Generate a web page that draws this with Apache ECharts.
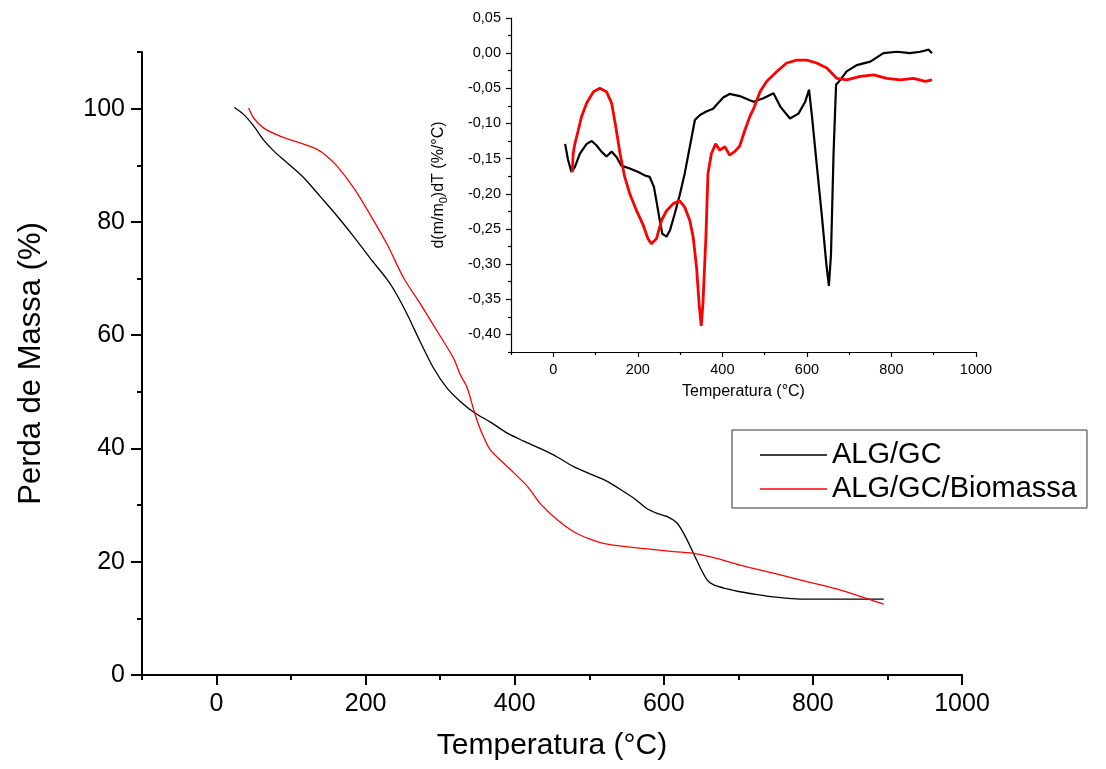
<!DOCTYPE html>
<html>
<head>
<meta charset="utf-8">
<title>TG / DTG</title>
<script src="https://cdn.jsdelivr.net/npm/echarts@6/dist/echarts.min.js"></script>
<style>
html,body{margin:0;padding:0;background:#fff;}
#main{width:1106px;height:769px;}
</style>
</head>
<body>
<div id="main"></div>
<script>
// TG (perda de massa, %) - [temperatura, valor]
var tgAlg = [[24,100.2],[37,98.9],[50,96.9],[63,94.5],[77,92.5],[95,90.4],[117,87.8],[139,84.5],[162,81.0],[184,77.4],[206,73.6],[229,69.8],[242,67.1],[256,63.6],[273,58.9],[291,54.2],[309,50.7],[327,48.3],[345,46.4],[368,44.6],[390,42.7],[412,41.3],[434,40.0],[457,38.5],[479,36.8],[501,35.5],[524,34.2],[546,32.4],[562,31.0],[577,29.4],[592,28.5],[604,28.0],[618,26.8],[631,23.9],[644,20.3],[658,16.8],[667,15.9],[685,15.2],[702,14.7],[725,14.2],[747,13.8],[783,13.4],[840,13.4],[895,13.4]];
var tgBio = [[43,100.1],[50,98.3],[63,96.6],[86,95.1],[113,93.9],[135,92.8],[148,91.6],[162,89.8],[184,86.0],[206,81.3],[229,76.0],[251,70.1],[274,65.4],[296,60.7],[318,55.9],[327,53.0],[336,50.8],[345,46.8],[352,44.0],[358,42.1],[367,39.8],[390,36.8],[417,33.3],[434,30.3],[457,27.4],[479,25.3],[501,24.0],[524,23.1],[568,22.4],[613,21.8],[644,21.4],[671,20.6],[702,19.4],[747,18.0],[792,16.5],[837,15.0],[895,12.5]];

// DTG (inset)
var dtgAlg = [[28,-0.129],[35,-0.152],[43,-0.169],[51,-0.162],[63,-0.143],[79,-0.129],[91,-0.125],[102,-0.131],[114,-0.140],[126,-0.147],[138,-0.140],[150,-0.148],[161,-0.160],[181,-0.164],[201,-0.169],[217,-0.174],[228,-0.176],[238,-0.190],[244,-0.210],[252,-0.238],[258,-0.257],[268,-0.261],[276,-0.252],[287,-0.229],[299,-0.202],[311,-0.171],[323,-0.133],[335,-0.095],[347,-0.088],[362,-0.083],[378,-0.079],[390,-0.071],[402,-0.063],[417,-0.058],[441,-0.061],[465,-0.067],[474,-0.069],[497,-0.064],[521,-0.057],[537,-0.076],[560,-0.093],[580,-0.086],[596,-0.069],[605,-0.052],[612,-0.090],[623,-0.157],[635,-0.229],[646,-0.300],[652,-0.331],[657,-0.286],[663,-0.143],[669,-0.045],[679,-0.038],[694,-0.026],[718,-0.017],[750,-0.012],[781,0.000],[813,0.002],[844,0.000],[868,0.002],[888,0.005],[896,0.000]];
var dtgBio = [[45,-0.169],[47,-0.143],[51,-0.129],[59,-0.110],[67,-0.090],[79,-0.071],[95,-0.055],[110,-0.050],[126,-0.055],[138,-0.071],[148,-0.105],[158,-0.143],[169,-0.176],[181,-0.200],[197,-0.224],[213,-0.245],[224,-0.264],[232,-0.271],[244,-0.264],[256,-0.238],[268,-0.224],[284,-0.214],[299,-0.210],[311,-0.219],[323,-0.238],[331,-0.262],[339,-0.305],[345,-0.357],[350,-0.388],[354,-0.357],[361,-0.262],[366,-0.171],[374,-0.143],[384,-0.129],[394,-0.138],[406,-0.133],[417,-0.145],[429,-0.140],[441,-0.132],[453,-0.110],[465,-0.090],[474,-0.079],[489,-0.055],[505,-0.040],[529,-0.026],[552,-0.014],[576,-0.010],[600,-0.010],[623,-0.014],[647,-0.021],[671,-0.036],[694,-0.038],[726,-0.033],[758,-0.031],[789,-0.036],[821,-0.038],[852,-0.036],[880,-0.040],[896,-0.038]];

// ticks
var xMajor = [0,200,400,600,800,1000];
var xMinor = [-100,100,300,500,700,900];
var yMajor = [0,20,40,60,80,100];
var yMinor = [10,30,50,70,90,110];
var insetYMajor = [-0.40,-0.35,-0.30,-0.25,-0.20,-0.15,-0.10,-0.05,0,0.05];
var insetYMinor = [-0.425,-0.375,-0.325,-0.275,-0.225,-0.175,-0.125,-0.075,-0.025,0.025];

var FONT = 'Arial, "Liberation Sans", sans-serif';
var FONT_NARROW = '"Liberation Sans Narrow", "Arial Narrow", Arial, "Liberation Sans", sans-serif';

function axisBase(gridIndex, min, max, pos){
	return {
		type: 'value', gridIndex: gridIndex, min: min, max: max, position: pos,
		splitLine: {show: false}
	};
}

function majorAxis(gridIndex, min, max, pos, ticks, opt){
	var a = axisBase(gridIndex, min, max, pos);
	a.axisLine = {show: true, onZero: false, lineStyle: {color: '#000', width: opt.lw}};
	a.axisTick = {show: true, inside: false, length: opt.major, customValues: ticks, lineStyle: {color: '#000', width: opt.lw}};
	a.axisLabel = {customValues: ticks, color: '#000', fontSize: opt.fs, fontFamily: opt.font || FONT, margin: opt.margin,
		formatter: opt.fmt || function(v){ return String(v); }};
	a.name = opt.name;
	a.nameLocation = 'middle';
	a.nameGap = opt.gap;
	a.nameTextStyle = opt.nameStyle;
	if(opt.rot) a.nameRotate = 90;
	return a;
}

function minorAxis(gridIndex, min, max, pos, ticks, len, lw){
	var a = axisBase(gridIndex, min, max, pos);
	a.axisLine = {show: false, onZero: false};
	a.axisTick = {show: true, inside: false, length: len, customValues: ticks, lineStyle: {color: '#000', width: lw}};
	a.axisLabel = {show: false};
	return a;
}

function fmtComma(v){
	return v.toFixed(2).replace('.', ',');
}

var myChart = echarts.init(document.getElementById('main'), null, {renderer: 'canvas'});
var option = {
	animation: false,
	backgroundColor: '#fff',
	grid: [
		{left: 142, right: 144, top: 52, bottom: 94},
		{left: 511, right: 130, top: 18, bottom: 417}
	],
	legend: {
		data: ['ALG/GC', 'ALG/GC/Biomassa'],
		orient: 'vertical',
		left: 732, top: 430,
		icon: 'rect',
		itemWidth: 67, itemHeight: 1.5, itemGap: 4,
		padding: [10, 10, 4, 28],
		borderColor: '#333', borderWidth: 1,
		selectedMode: false,
		textStyle: {color: '#000', fontSize: 29, fontFamily: FONT, lineHeight: 30}
	},
	xAxis: [
		majorAxis(0, -100, 1000, 'bottom', xMajor, {lw: 2, major: 10, fs: 25, font: FONT_NARROW, margin: 17, name: 'Temperatura (°C)', gap: 56,
			nameStyle: {color: '#000', fontSize: 30, fontFamily: FONT}}),
		minorAxis(0, -100, 1000, 'bottom', xMinor, 5, 2),
		majorAxis(1, -100, 1000, 'bottom', xMajor, {lw: 1.2, major: 5, fs: 14.5, margin: 10, name: 'Temperatura (°C)', gap: 32,
			nameStyle: {color: '#000', fontSize: 16, fontFamily: FONT}}),
		minorAxis(1, -100, 1000, 'bottom', xMajor.map(function(v){return v + 100;}).concat([-100]), 3, 1.2)
	],
	yAxis: [
		majorAxis(0, 0, 110, 'left', yMajor, {lw: 2, major: 11, fs: 25, font: FONT_NARROW, margin: 17, name: 'Perda de Massa (%)', gap: 95, rot: true,
			nameStyle: {color: '#000', fontSize: 31, fontFamily: FONT}}),
		minorAxis(0, 0, 110, 'left', yMinor, 5, 2),
		majorAxis(1, -0.425, 0.05, 'left', insetYMajor, {lw: 1.2, major: 5, fs: 14.5, margin: 10, fmt: fmtComma,
			name: 'd(m/m{s|0})dT (%/°C)', gap: 62, rot: true,
			nameStyle: {color: '#000', fontSize: 16, fontFamily: FONT, rich: {s: {fontSize: 11, fontFamily: FONT, color: '#000', padding: [9, 0, 0, 0]}}}}),
		minorAxis(1, -0.425, 0.05, 'left', insetYMinor, 3, 1.2)
	],
	series: [
		{name: 'ALG/GC', type: 'line', xAxisIndex: 0, yAxisIndex: 0, data: tgAlg, symbol: 'none', smooth: 0.3,
			lineStyle: {color: '#000', width: 1.3}, itemStyle: {color: '#000'}},
		{name: 'ALG/GC/Biomassa', type: 'line', xAxisIndex: 0, yAxisIndex: 0, data: tgBio, symbol: 'none', smooth: 0.3,
			lineStyle: {color: '#ff0000', width: 1.3}, itemStyle: {color: '#ff0000'}},
		{name: 'ALG/GC', type: 'line', xAxisIndex: 2, yAxisIndex: 2, data: dtgAlg, symbol: 'none',
			lineStyle: {color: '#000', width: 2.2}},
		{name: 'ALG/GC/Biomassa', type: 'line', xAxisIndex: 2, yAxisIndex: 2, data: dtgBio, symbol: 'none',
			lineStyle: {color: '#ff0000', width: 2.8}}
	]
};
myChart.setOption(option);
</script>
</body>
</html>
